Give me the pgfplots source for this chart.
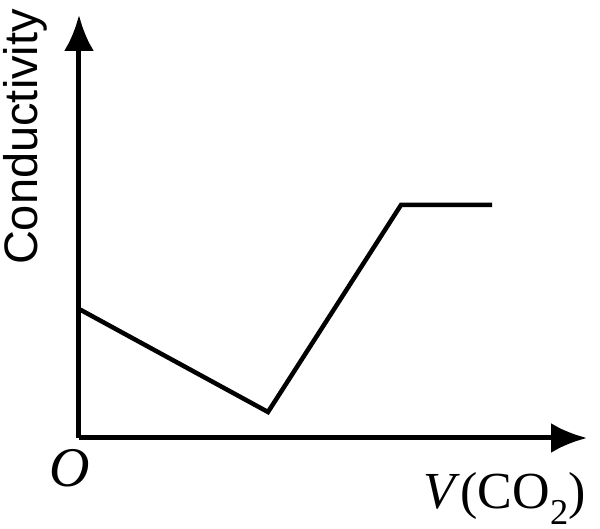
\documentclass[border=0pt]{standalone}
\usepackage{pgfplots}
\pgfplotsset{compat=1.18}
\usepackage{fontspec}
\setmainfont{Liberation Serif}
\newfontfamily\labelsans{Liberation Sans}
\usetikzlibrary{arrows.meta}

\begin{document}
\begin{tikzpicture}
\begin{axis}[
  scale only axis,
  width=508pt, height=423pt,
  xmin=0, xmax=508,
  ymin=0, ymax=423,
  axis lines=left,
  xtick=\empty, ytick=\empty,
  axis line style={line width=5pt, -{Latex[length=36pt,width=30pt]}},
  clip=false,
]
% corners of the reference image
\coordinate (bbA) at (axis cs:-79,-91);
\coordinate (bbB) at (axis cs:521,438);
\addplot[black, line width=4.5pt, line join=miter] coordinates {
  (0,129) (189,26) (322,233) (413,233)
};
\node[rotate=90, font={\labelsans\fontsize{47}{52}\selectfont}] at (axis cs:-54,301) {Conductivity};
\node[font={\fontsize{56}{60}\selectfont\itshape}] at (axis cs:-9,-30) {O};
\node[anchor=base, inner sep=0pt, font={\fontsize{52}{58}\selectfont}] at (axis cs:426,-71) {\textit{V}(CO\textsubscript{2})};
\end{axis}
\pgfresetboundingbox
\path (bbA) rectangle (bbB);
\end{tikzpicture}
\end{document}
